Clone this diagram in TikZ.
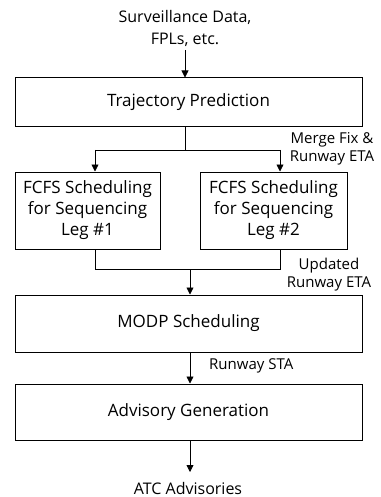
\documentclass[tikz,border=0pt]{standalone}
\usepackage{fontspec}
\setmainfont{Open Sans}
\usetikzlibrary{arrows.meta}
\begin{document}
\begin{tikzpicture}[x=1pt,y=-1pt,
  box/.style={draw, line width=1pt, inner sep=0pt, font=\fontsize{17}{21}\selectfont, align=center},
  lbl/.style={font=\fontsize{15}{18}\selectfont, align=center, inner sep=0pt},
  arr/.style={-{Triangle[length=7pt,width=7pt]}, line width=0.8pt},
  ln/.style={line width=0.8pt}]
\useasboundingbox (0,0) rectangle (380,497);
\node[lbl, font=\fontsize{16}{22}\selectfont] (src) at (185,28) {Surveillance Data,\\FPLs, etc.};
\node[box, minimum width=347pt, minimum height=49pt] (tp) at (188.5,102.5) {Trajectory Prediction};
\node[box, minimum width=145pt, minimum height=77pt] (f1) at (87.5,210.5) {FCFS Scheduling\\for Sequencing\\Leg \#1};
\node[box, minimum width=147pt, minimum height=77pt] (f2) at (273.5,210.5) {FCFS Scheduling\\for Sequencing\\Leg \#2};
\node[box, minimum width=347pt, minimum height=57pt] (modp) at (188.5,323.5) {MODP Scheduling};
\node[box, minimum width=347pt, minimum height=56pt] (adv) at (188.5,412) {Advisory Generation};
\node[lbl, font=\fontsize{16}{18}\selectfont] (atc) at (188,488) {ATC Advisories};
\node[lbl] (l1) at (332,149) {Merge Fix \&\\Runway ETA};
\node[lbl] (l2) at (329,275) {Updated\\Runway ETA};
\node[lbl, anchor=west] (l3) at (209,366) {Runway STA};
\coordinate (j1) at (185,150);
\coordinate (j1l) at (95,150);
\coordinate (j1r) at (280,150);
\coordinate (j2l) at (95,269);
\coordinate (j2r) at (280,269);
\coordinate (j2) at (190,269);
\draw[arr] (185,50) -- (tp.north -| 185,0);
\draw[ln] (tp.south -| j1) -- (j1);
\draw[ln] (j1l) -- (j1r);
\draw[arr] (j1l) -- (f1.north -| j1l);
\draw[arr] (j1r) -- (f2.north -| j1r);
\draw[ln] (f1.south -| j2l) -- (j2l) -- (j2r) -- (f2.south -| j2r);
\draw[arr] (j2) -- (modp.north -| j2);
\draw[arr] (modp.south -| j2) -- (adv.north -| j2);
\draw[arr] (adv.south -| j2) -- (190,472);
\end{tikzpicture}
\end{document}
